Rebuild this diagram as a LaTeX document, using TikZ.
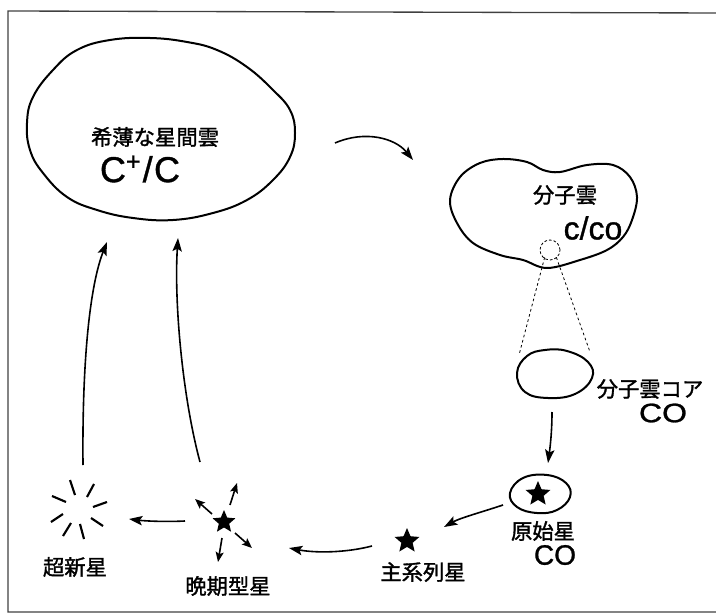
\documentclass[tikz,border=0pt]{standalone}
\usepackage{fontspec}
\setmainfont{Liberation Sans}
\newfontfamily\jp[FakeBold=1.5]{Noto Sans CJK JP}
\newfontfamily\heavysans[FakeBold=1]{Liberation Sans}
\newfontfamily\widesans[FakeStretch=1.2,FakeBold=1]{Liberation Sans}
\usetikzlibrary{arrows.meta,shapes.geometric}
\tikzset{
  cloud/.style={line width=1.5pt, line join=round},
  flow/.style={line width=1.2pt, -{Stealth[length=10pt,width=7pt,inset=2pt]}},
  small flow/.style={line width=1.2pt, -{Stealth[length=7.5pt,width=6pt,inset=1.5pt]}},
  jptext/.style={font=\jp\fontsize{16}{18}\selectfont, inner sep=0pt},
  chem/.style={font=\heavysans\fontsize{24}{26}\selectfont, inner sep=0pt},
  starmark/.style={star, star points=5, star point ratio=2.2, fill=black, inner sep=0pt, minimum size=#1},
  burst/.style={line width=1.6pt},
  zoomline/.style={line width=0.6pt, dash pattern=on 2pt off 2pt},
  frameline/.style={line width=1pt, black!75}
}
\begin{document}
\begin{tikzpicture}[x=0.75pt,y=-0.75pt]
\useasboundingbox (0,0) rectangle (716,616);
% frame
\draw[frameline] (716,612) -- (8,612) -- (8,11) -- (716,13);

% diffuse interstellar cloud
\draw[cloud] plot[smooth cycle, tension=0.7] coordinates {
 (53,70) (77,50) (110,40) (150,38) (187,42) (217,50) (247,67) (273,90)
 (290,110) (295,133) (290,157) (273,180) (247,200) (213,213) (173,220)
 (133,218) (97,210) (67,197) (43,173) (30,150) (27,123) (33,97)};
\node[jptext] (diffuse) at (155,137) {希薄な星間雲};
\node[chem, font=\heavysans\fontsize{27}{29}\selectfont] (cpc) at (140,169) {C\textsuperscript{+}\kern1pt/\kern1ptC};

% molecular cloud
\draw[cloud] plot[smooth cycle, tension=0.6] coordinates {
 (450,200) (460,177) (480,163) (503,159) (527,162) (543,170) (560,172)
 (587,165) (613,165) (630,177) (637,197) (632,220) (623,237) (607,250)
 (580,260) (547,268) (523,260) (500,255) (473,243) (457,223)};
\node[jptext] (mol) at (565,195) {分子雲};
\node[chem] (cco) at (593,228) {c/co};
\node[circle, draw, dash pattern=on 2pt off 1.5pt, line width=0.6pt, minimum size=15pt, inner sep=0pt] (sub) at (550,250) {};

% core
\draw[cloud] plot[smooth cycle, tension=0.7] coordinates {
 (517,373) (527,356) (545,350) (567,351) (588,362) (592,378) (575,394) (548,398) (525,392)};
\coordinate (coreL) at (519,355);
\coordinate (coreR) at (590,352);
\draw[zoomline] (sub.south west) ++(2,0) coordinate (subL) (subL) -- (coreL);
\draw[zoomline] (sub.south east) ++(-1,0) coordinate (subR) (subR) -- (coreR);
\node[jptext] (corelabel) at (650,389) {分子雲コア};
\node[chem, font=\widesans\fontsize{20}{22}\selectfont] (coreco) at (663,413) {CO};

% protostar
\draw[cloud] plot[smooth cycle, tension=0.7] coordinates {
 (510,493) (523,478) (547,475) (566,483) (570,497) (557,510) (537,513) (517,507)};
\node[starmark=19.5pt] (proto) at (538,494) {};
\node[jptext] (protolabel) at (543,531) {原始星};
\node[chem, font=\heavysans\fontsize{21}{23}\selectfont] (protoco) at (555,555) {CO};

% main sequence star
\node[starmark=19.5pt] (ms) at (407,541) {};
\node[jptext] (mslabel) at (423,572) {主系列星};

% late-type star
\node[starmark=18pt] (late) at (224,522) {};
\node[jptext] (latelabel) at (228,586) {晩期型星};
\coordinate (l1s) at (230,505); \coordinate (l1e) at (237,483);
\coordinate (l2s) at (212,514); \coordinate (l2e) at (195,499);
\coordinate (l3s) at (222,538); \coordinate (l3e) at (218,562);
\coordinate (l4s) at (235,533); \coordinate (l4e) at (252,548);
\draw[small flow] (l1s) -- (l1e);
\draw[small flow] (l2s) -- (l2e);
\draw[small flow] (l3s) -- (l3e);
\draw[small flow] (l4s) -- (l4e);

% supernova
\coordinate (sn) at (78,510);
\draw[burst] (70,480) -- (75,495);
\draw[burst] (94,484) -- (87,497);
\draw[burst] (107,502) -- (93,507);
\draw[burst] (91,518) -- (103,526);
\draw[burst] (80,524) -- (84,539);
\draw[burst] (71,523) -- (63,536);
\draw[burst] (63,514) -- (51,522);
\draw[burst] (52,496) -- (66,502);
\node[jptext] (snlabel) at (75,567) {超新星};

% main cycle arrows
\coordinate (a1s) at (335,143); \coordinate (a1e) at (413,160);
\draw[flow] (a1s) .. controls (365,130) and (395,138) .. (a1e);
\coordinate (a2s) at (552,412); \coordinate (a2e) at (548,463);
\draw[flow] (a2s) .. controls (552,432) and (550,448) .. (a2e);
\coordinate (a3s) at (503,505); \coordinate (a3e) at (444,527);
\draw[flow] (a3s) .. controls (482,512) and (460,518) .. (a3e);
\coordinate (a4s) at (372,546); \coordinate (a4e) at (289,548);
\draw[flow] (a4s) .. controls (345,553) and (315,553) .. (a4e);
\coordinate (a5s) at (185,521); \coordinate (a5e) at (129,519);
\draw[flow] (a5s) .. controls (165,522) and (145,521) .. (a5e);
\coordinate (a6s) at (83,465); \coordinate (a6e) at (107,242);
\draw[flow] (a6s) .. controls (82,360) and (90,285) .. (a6e);
\coordinate (a7s) at (200,462); \coordinate (a7e) at (178,238);
\draw[flow] (a7s) .. controls (182,395) and (174,300) .. (a7e);
\end{tikzpicture}
\end{document}
